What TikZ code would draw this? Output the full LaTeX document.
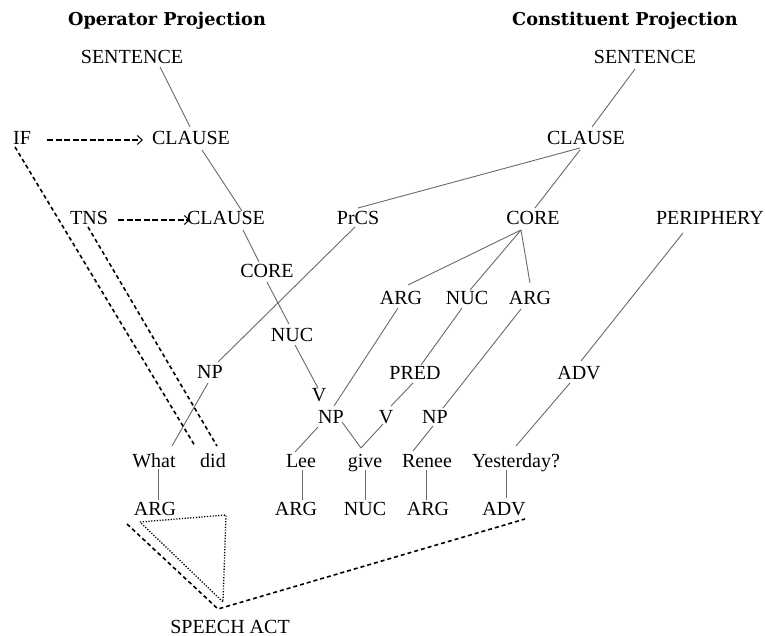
\documentclass[tikz,border=0pt]{standalone}
\usepackage{fontspec}
\setmainfont{Liberation Serif}
\newfontfamily\titlefont{DejaVu Serif}
\usetikzlibrary{calc,arrows.meta}
\definecolor{branchgray}{RGB}{105,105,105}

\begin{document}
\begin{tikzpicture}[x=1pt,y=-1pt,
  lbl/.style={inner sep=0pt,text height=13.2pt,text depth=0pt,font=\fontsize{20}{24}\selectfont},
  ttl/.style={inner sep=0pt,anchor=base,font=\titlefont\bfseries\fontsize{17.7}{21}\selectfont},
  branch/.style={draw=branchgray,line width=0.9pt},
  link/.style={draw=black,line width=1.6pt,dash pattern=on 4pt off 3pt},
  oparrow/.style={draw=black,line width=1.4pt,dash pattern=on 6pt off 2.5pt,
    -{Straight Barb[length=5pt,width=9pt,line width=1pt]}},
  dots/.style={draw=black,line width=1.3pt,dash pattern=on 1.2pt off 1.6pt}
]
\useasboundingbox (0,0) rectangle (766,636);

% titles
\node[ttl] (optitle) at (167,26) {Operator Projection};
\node[ttl] (contitle) at (625,26) {Constituent Projection};

% operator side
\node[lbl] (sentL) at (132,57) {SENTENCE};
\node[lbl] (ifop) at (22,138) {IF};
\node[lbl] (clauseL) at (191,138) {CLAUSE};
\node[lbl] (tns) at (89,218) {TNS};
\node[lbl] (clauseLL) at (226,218) {CLAUSE};
\node[lbl] (coreL) at (267,271) {CORE};
\node[lbl] (nucL) at (292,335) {NUC};
\node[lbl] (vL) at (319,395) {V};

% constituent side
\node[lbl] (sentR) at (645,57) {SENTENCE};
\node[lbl] (clauseR) at (586,138) {CLAUSE};
\node[lbl] (prcs) at (358,218) {PrCS};
\node[lbl] (coreR) at (533,218) {CORE};
\node[lbl] (periph) at (710,218) {PERIPHERY};
\node[lbl] (argA) at (401,298) {ARG};
\node[lbl] (nucR) at (467,298) {NUC};
\node[lbl] (argB) at (530,298) {ARG};
\node[lbl] (npL) at (210,372) {NP};
\node[lbl] (pred) at (415,373) {PRED};
\node[lbl] (advM) at (579,373) {ADV};
\node[lbl] (npM) at (331,417) {NP};
\node[lbl] (vR) at (386,417) {V};
\node[lbl] (npR) at (435,417) {NP};

% words
\node[lbl] (what) at (154,461) {What};
\node[lbl] (did) at (213,461) {did};
\node[lbl] (lee) at (301,461) {Lee};
\node[lbl] (give) at (365,461) {give};
\node[lbl] (renee) at (427,461) {Renee};
\node[lbl] (yest) at (516,461) {Yesterday?};

% focus structure
\node[lbl] (argW) at (155,509) {ARG};
\node[lbl] (argL) at (296,509) {ARG};
\node[lbl] (nucG) at (365,509) {NUC};
\node[lbl] (argN) at (428,509) {ARG};
\node[lbl] (advB) at (504,509) {ADV};
\node[lbl] (speech) at (230,626.5) {SPEECH ACT};

% operator projection branches
\draw[branch] ($(sentL)+(28,10)$) -- ($(clauseL)+(-1,-11)$);
\draw[branch] ($(clauseL)+(11,12)$) -- ($(clauseLL)+(16,-7)$);
\draw[branch] ($(clauseLL)+(17,12)$) -- ($(coreL)+(-8,-9)$);
\draw[branch] ($(coreL)+(0,11)$) -- ($(nucL)+(-3,-11)$);
\draw[branch] ($(nucL)+(3,10)$) -- ($(vL)+(-1,-7)$);

% constituent projection branches
\draw[branch] ($(sentR)+(-10,12)$) -- ($(clauseR)+(6,-11)$);
\draw[branch] ($(clauseR)+(-6,10)$) -- ($(prcs)+(0,-10)$);
\draw[branch] ($(clauseR)+(-6,12)$) -- ($(coreR)+(2,-10)$);
\draw[branch] ($(prcs)+(-3,9)$) -- ($(npL)+(8,-10)$);
\draw[branch] ($(npL)+(-2,11)$) -- ($(what)+(18,-15)$);
\draw[branch] ($(coreR)+(-12,12)$) -- ($(argA)+(7,-13)$);
\draw[branch] ($(coreR)+(-12,12)$) -- ($(nucR)+(3,-8)$);
\draw[branch] ($(coreR)+(-12,12)$) -- ($(argB)+(0,-15)$);
\draw[branch] ($(periph)+(-27,15)$) -- ($(advM)+(2,-12)$);
\draw[branch] ($(advM)+(-9,10)$) -- ($(yest)+(0,-15)$);
\draw[branch] ($(argA)+(-3,10)$) -- ($(npM)+(3,-11)$);
\draw[branch] ($(nucR)+(-5,10)$) -- ($(pred)+(6,-8)$);
\draw[branch] ($(pred)+(-2,10)$) -- ($(vR)+(5,-11)$);
\draw[branch] ($(argB)+(-9,11)$) -- ($(npR)+(8,-9)$);
\draw[branch] ($(npR)+(-2,9)$) -- ($(renee)+(-14,-10)$);
\draw[branch] ($(npM)+(-13,10)$) -- ($(lee)+(-6,-9)$);
\draw[branch] ($(npM)+(11,5)$) -- ($(give)+(-4,-13)$);
\draw[branch] ($(vR)+(-3,7)$) -- ($(give)+(-4,-13)$);

% words to focus labels
\draw[branch] ($(what)+(4,8)$) -- ($(argW)+(3,-9)$);
\draw[branch] ($(lee)+(1,9)$) -- ($(argL)+(6,-9)$);
\draw[branch] ($(give)+(0,9)$) -- ($(nucG)+(0,-9)$);
\draw[branch] ($(renee)+(-1,9)$) -- ($(argN)+(-2,-9)$);
\draw[branch] ($(yest)+(-10,9)$) -- ($(advB)+(2,-11)$);

% operator scope
\draw[oparrow] ($(ifop)+(25,2)$) -- ($(clauseL)+(-48,2)$);
\draw[oparrow] ($(tns)+(29,2)$) -- ($(clauseLL)+(-36,2)$);
\draw[link] ($(ifop)+(-7,9)$) -- ($(did)+(-18,-15)$);
\draw[link] ($(tns)+(-1,9)$) -- ($(did)+(4,-15)$);

% speech act
\coordinate (saCorner) at ($(speech)+(-12,-17.5)$);
\draw[link] ($(argW)+(-28,15)$) -- (saCorner) -- ($(advB)+(21,10)$);
\draw[dots] ($(argW)+(-15,13)$) -- ($(argW)+(71,6)$) -- ($(speech)+(-7,-24.5)$) -- cycle;
\end{tikzpicture}
\end{document}
